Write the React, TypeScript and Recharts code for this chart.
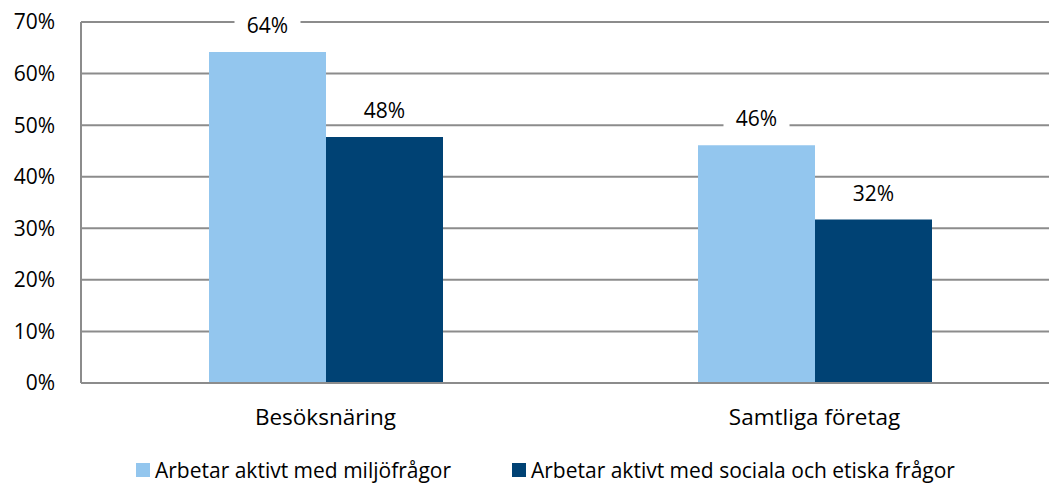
import { BarChart, Bar, XAxis, YAxis, CartesianGrid, LabelList } from "recharts"

const categories = ["Besöksnäring", "Samtliga företag"]
const miljo = [64.2, 46.1]
const sociala = [47.7, 31.7]
const yTicks = [0, 10, 20, 30, 40, 50, 60, 70]
const seriesNames = ["Arbetar aktivt med miljöfrågor", "Arbetar aktivt med sociala och etiska frågor"]

const LIGHT = "#93C6EE"
const DARK = "#004274"
const GRID = "#8c8c8c"
const FONT = "'Open Sans', sans-serif"
const FS = 21

const data = categories.map((name, i) => ({ name, miljo: miljo[i], sociala: sociala[i] }))

const BoxLabel = (props: any) => {
  const { x, y, width, value } = props
  const cx = x + width / 2
  return (
    <g>
      <rect x={cx - 33} y={y - 41} width={66} height={28} fill="#fff" />
      <text x={cx} y={y - 27} textAnchor="middle" dominantBaseline="central" fontSize={FS} fontFamily={FONT} fill="#000">
        {Math.round(value)}%
      </text>
    </g>
  )
}

export default function App() {
  return (
    <div style={{ position: "relative", width: 1049, height: 484 }}>
      <style>{`body{margin:0;overflow:hidden}`}</style>
      <BarChart
        width={1049}
        height={484}
        data={data}
        margin={{ top: 22, right: -10, bottom: 71, left: 0 }}
        barGap={0}
      >
        <CartesianGrid horizontal vertical={false} stroke={GRID} strokeWidth={2} />
        <XAxis
          dataKey="name"
          height={30}
          axisLine={{ stroke: GRID, strokeWidth: 2 }}
          tickLine={false}
          tickMargin={20}
          tick={{ fontSize: 22.5, fontFamily: FONT, fill: "#000" }}
        />
        <YAxis
          width={81}
          domain={[0, 70]}
          ticks={yTicks}
          tickFormatter={(v: number) => `${v}%`}
          axisLine={{ stroke: GRID, strokeWidth: 2 }}
          tickLine={false}
          tickMargin={20}
          tick={{ fontSize: FS, fontFamily: FONT, fill: "#000" }}
        />
        <Bar dataKey="miljo" name={seriesNames[0]} fill={LIGHT} barSize={117} isAnimationActive={false}>
          <LabelList dataKey="miljo" content={<BoxLabel />} />
        </Bar>
        <Bar dataKey="sociala" name={seriesNames[1]} fill={DARK} barSize={117} isAnimationActive={false}>
          <LabelList dataKey="sociala" content={<BoxLabel />} />
        </Bar>
      </BarChart>
      <div style={{ position: "absolute", left: 0, top: 458, width: 1049, height: 24, fontFamily: FONT, fontSize: FS, color: "#000" }}>
        {seriesNames.map((n, i) => (
          <div key={n} style={{ position: "absolute", left: i === 0 ? 136 : 512, top: 0, display: "flex", alignItems: "center", whiteSpace: "nowrap", lineHeight: "24px", height: 24 }}>
            <span style={{ display: "inline-block", width: 14, height: 14, background: i === 0 ? LIGHT : DARK, marginRight: 5 }} />
            {n}
          </div>
        ))}
      </div>
    </div>
  )
}
